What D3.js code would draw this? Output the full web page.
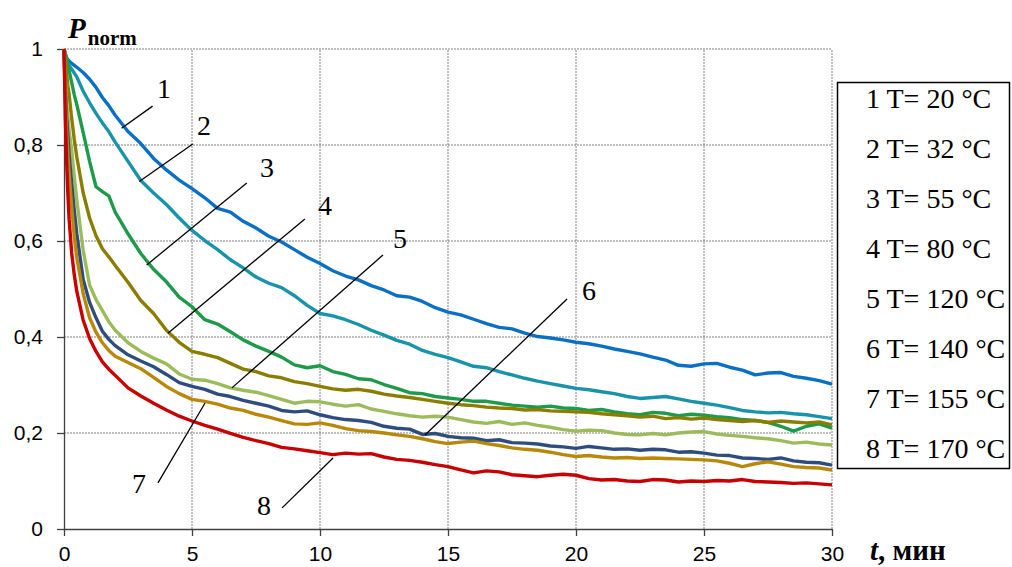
<!DOCTYPE html>
<html>
<head>
<meta charset="utf-8">
<script src="https://cdn.jsdelivr.net/npm/d3@7"></script>
<style>
  html, body { margin: 0; padding: 0; background: #fff; }
  svg { display: block; }
</style>
</head>
<body>
<div id="chart"></div>
<script>
// time axis, minutes (shared by all series)
const times = [0, 0.05, 0.1, 0.15, 0.2, 0.3, 0.4, 0.5, 0.75, 1, 1.25, 1.5, 1.75, 2,
  2.5, 3, 3.5, 4, 4.5, 5, 5.5, 6, 6.5, 7, 7.5, 8, 8.5, 9, 9.5, 10,
  10.5, 11, 11.5, 12, 12.5, 13, 13.5, 14, 14.5, 15, 15.5, 16, 16.5, 17, 17.5, 18, 18.5, 19, 19.5, 20,
  20.5, 21, 21.5, 22, 22.5, 23, 23.5, 24, 24.5, 25, 25.5, 26, 26.5, 27, 27.5, 28, 28.5, 29, 29.5, 30];

// P_norm
const p20 = [1, 0.99, 0.982, 0.978, 0.975, 0.97, 0.966, 0.962, 0.951, 0.937, 0.92, 0.899, 0.882, 0.862,
  0.828, 0.803, 0.772, 0.748, 0.727, 0.709, 0.69, 0.668, 0.66, 0.641, 0.627, 0.61, 0.598, 0.582, 0.566, 0.553,
  0.538, 0.527, 0.519, 0.507, 0.498, 0.486, 0.483, 0.474, 0.461, 0.452, 0.446, 0.437, 0.428, 0.42, 0.417, 0.408, 0.401, 0.398, 0.394, 0.389,
  0.386, 0.381, 0.375, 0.37, 0.365, 0.358, 0.352, 0.341, 0.339, 0.344, 0.345, 0.337, 0.331, 0.321, 0.325, 0.326, 0.318, 0.314, 0.309, 0.302];
const p32 = [1, 0.99, 0.98, 0.972, 0.966, 0.958, 0.95, 0.942, 0.912, 0.888, 0.866, 0.846, 0.828, 0.806,
  0.766, 0.726, 0.7, 0.676, 0.648, 0.622, 0.601, 0.582, 0.561, 0.544, 0.525, 0.512, 0.503, 0.486, 0.466, 0.449,
  0.444, 0.436, 0.426, 0.414, 0.404, 0.393, 0.385, 0.372, 0.364, 0.357, 0.348, 0.339, 0.336, 0.328, 0.321, 0.314, 0.308, 0.303, 0.298, 0.293,
  0.29, 0.286, 0.282, 0.276, 0.272, 0.274, 0.276, 0.271, 0.266, 0.262, 0.258, 0.253, 0.247, 0.244, 0.242, 0.243, 0.24, 0.238, 0.234, 0.23];
const p55 = [1, 0.99, 0.978, 0.966, 0.955, 0.93, 0.905, 0.884, 0.826, 0.766, 0.713, 0.703, 0.694, 0.66,
  0.615, 0.574, 0.541, 0.515, 0.483, 0.463, 0.436, 0.427, 0.411, 0.394, 0.381, 0.37, 0.358, 0.342, 0.336, 0.34,
  0.328, 0.322, 0.313, 0.311, 0.301, 0.293, 0.284, 0.282, 0.276, 0.273, 0.27, 0.266, 0.266, 0.262, 0.258, 0.256, 0.254, 0.256, 0.252, 0.251,
  0.247, 0.249, 0.244, 0.24, 0.238, 0.243, 0.241, 0.236, 0.239, 0.237, 0.234, 0.232, 0.228, 0.226, 0.222, 0.214, 0.204, 0.214, 0.219, 0.21];
const p80 = [1, 0.975, 0.95, 0.924, 0.905, 0.856, 0.812, 0.775, 0.7, 0.648, 0.611, 0.584, 0.567, 0.549,
  0.514, 0.476, 0.449, 0.414, 0.389, 0.37, 0.364, 0.357, 0.345, 0.333, 0.328, 0.319, 0.315, 0.307, 0.303, 0.297,
  0.292, 0.289, 0.291, 0.287, 0.281, 0.277, 0.274, 0.27, 0.266, 0.262, 0.259, 0.257, 0.254, 0.252, 0.251, 0.248, 0.249, 0.246, 0.245, 0.244,
  0.243, 0.24, 0.238, 0.236, 0.233, 0.235, 0.23, 0.232, 0.229, 0.231, 0.228, 0.226, 0.224, 0.226, 0.222, 0.225, 0.223, 0.221, 0.223, 0.217];
const p120 = [1, 0.94, 0.89, 0.86, 0.83, 0.79, 0.735, 0.685, 0.58, 0.508, 0.478, 0.455, 0.432, 0.414,
  0.388, 0.37, 0.356, 0.344, 0.323, 0.312, 0.31, 0.303, 0.294, 0.289, 0.285, 0.278, 0.27, 0.262, 0.266, 0.265,
  0.26, 0.256, 0.259, 0.25, 0.245, 0.24, 0.236, 0.233, 0.235, 0.233, 0.228, 0.223, 0.22, 0.224, 0.218, 0.221, 0.216, 0.212, 0.207, 0.204,
  0.206, 0.205, 0.2, 0.197, 0.196, 0.199, 0.196, 0.2, 0.202, 0.203, 0.198, 0.195, 0.193, 0.19, 0.188, 0.184, 0.179, 0.181, 0.177, 0.175];
const p140 = [1, 0.92, 0.86, 0.82, 0.78, 0.72, 0.665, 0.615, 0.52, 0.472, 0.44, 0.412, 0.395, 0.382,
  0.363, 0.35, 0.338, 0.322, 0.305, 0.297, 0.291, 0.281, 0.276, 0.268, 0.262, 0.256, 0.247, 0.244, 0.246, 0.238,
  0.232, 0.228, 0.226, 0.222, 0.214, 0.21, 0.208, 0.197, 0.199, 0.193, 0.19, 0.189, 0.184, 0.186, 0.18, 0.179, 0.177, 0.173, 0.171, 0.168,
  0.172, 0.169, 0.166, 0.167, 0.164, 0.166, 0.165, 0.16, 0.161, 0.158, 0.154, 0.153, 0.148, 0.147, 0.145, 0.148, 0.142, 0.139, 0.138, 0.133];
const p155 = [1, 0.9, 0.83, 0.78, 0.74, 0.67, 0.61, 0.565, 0.49, 0.44, 0.41, 0.388, 0.372, 0.36,
  0.347, 0.334, 0.316, 0.297, 0.282, 0.27, 0.266, 0.26, 0.252, 0.247, 0.239, 0.233, 0.226, 0.219, 0.218, 0.221,
  0.216, 0.209, 0.205, 0.203, 0.2, 0.196, 0.193, 0.188, 0.182, 0.178, 0.181, 0.183, 0.178, 0.174, 0.169, 0.166, 0.164, 0.16, 0.155, 0.151,
  0.153, 0.15, 0.148, 0.149, 0.147, 0.148, 0.147, 0.146, 0.145, 0.144, 0.142, 0.137, 0.13, 0.136, 0.14, 0.135, 0.13, 0.128, 0.127, 0.123];
const p170 = [1, 0.86, 0.77, 0.7, 0.645, 0.575, 0.53, 0.495, 0.435, 0.397, 0.37, 0.348, 0.333, 0.32,
  0.294, 0.277, 0.262, 0.248, 0.235, 0.225, 0.216, 0.208, 0.199, 0.191, 0.184, 0.178, 0.17, 0.167, 0.163, 0.159,
  0.155, 0.158, 0.156, 0.157, 0.15, 0.145, 0.143, 0.139, 0.134, 0.13, 0.123, 0.117, 0.121, 0.119, 0.113, 0.111, 0.109, 0.112, 0.114, 0.112,
  0.105, 0.102, 0.103, 0.1, 0.099, 0.103, 0.102, 0.098, 0.1, 0.099, 0.101, 0.1, 0.103, 0.099, 0.098, 0.097, 0.095, 0.096, 0.094, 0.092];

const seriesValues = [p20, p32, p55, p80, p120, p140, p155, p170];
const seriesColors = ['#0A70C4', '#1794AA', '#1E9A4B', '#8A7D00', '#9CBB5A', '#2E4D7E', '#B8880A', '#C80000'];
const legendLabels = ['1 T= 20 °C', '2 T= 32 °C', '3 T= 55 °C', '4 T= 80 °C',
  '5 T= 120 °C', '6 T= 140 °C', '7 T= 155 °C', '8 T= 170 °C'];

const xTicks = [0, 5, 10, 15, 20, 25, 30];
const yTicks = [0, 0.2, 0.4, 0.6, 0.8, 1];

// curve number callouts, in data units: text anchor, line start, line end
const callouts = [
  { n: '1', tx: 3.63, ty: 0.898, x1: 3.46, y1: 0.881, x2: 2.25, y2: 0.835 },
  { n: '2', tx: 5.2, ty: 0.821, x1: 5.03, y1: 0.802, x2: 2.94, y2: 0.724 },
  { n: '3', tx: 7.66, ty: 0.733, x1: 7.14, y1: 0.721, x2: 3.23, y2: 0.55 },
  { n: '4', tx: 9.92, ty: 0.654, x1: 9.41, y1: 0.646, x2: 4.06, y2: 0.408 },
  { n: '5', tx: 12.85, ty: 0.585, x1: 12.46, y1: 0.571, x2: 6.56, y2: 0.294 },
  { n: '6', tx: 20.23, ty: 0.477, x1: 19.65, y1: 0.479, x2: 14.1, y2: 0.196 },
  { n: '7', tx: 2.66, ty: 0.075, x1: 3.67, y1: 0.096, x2: 5.51, y2: 0.2625 },
  { n: '8', tx: 7.54, ty: 0.029, x1: 8.52, y1: 0.044, x2: 10.51, y2: 0.148 }
];

const W = 1012, H = 567;
const svg = d3.select('#chart').append('svg')
  .attr('width', W).attr('height', H);

const x = d3.scaleLinear().domain([0, 30]).range([64, 832]);
const y = d3.scaleLinear().domain([0, 1]).range([529, 49]);

const serif = '"Liberation Serif", "Times New Roman", serif';
const sans = '"Liberation Sans", Arial, sans-serif';

// grid
const grid = svg.append('g');
grid.selectAll('line.v')
  .data(xTicks.filter(d => d > 0)).enter()
  .append('line')
    .attr('x1', d => x(d)).attr('x2', d => x(d))
    .attr('y1', y(0)).attr('y2', y(1))
    .attr('stroke', '#808080').attr('stroke-width', 1)
    .attr('stroke-dasharray', '2,1');
grid.selectAll('line.h')
  .data(yTicks.filter(d => d > 0)).enter()
  .append('line')
    .attr('x1', x(0)).attr('x2', x(30))
    .attr('y1', d => y(d)).attr('y2', d => y(d))
    .attr('stroke', '#808080').attr('stroke-width', 1)
    .attr('stroke-dasharray', '2,1');

// axes
const fmt = d => String(d).replace('.', ',');
const yAxis = svg.append('g')
  .attr('transform', `translate(${x(0)},0)`)
  .call(d3.axisLeft(y).tickValues(yTicks).tickFormat(fmt).tickSize(7).tickSizeOuter(0).tickPadding(14));
const xAxis = svg.append('g')
  .attr('transform', `translate(0,${y(0)})`)
  .call(d3.axisBottom(x).tickValues(xTicks).tickSize(7).tickSizeOuter(0).tickPadding(10));
[xAxis, yAxis].forEach(a => {
  a.select('.domain').attr('stroke', '#404040').attr('stroke-width', 1.3);
  a.selectAll('.tick line').attr('stroke', '#404040').attr('stroke-width', 1.3);
  a.selectAll('.tick text')
    .attr('font-family', sans).attr('font-size', '21px').attr('fill', '#000');
});

// curves
const line = d3.line()
  .x((d, i) => x(times[i]))
  .y(d => y(d));
svg.append('g').selectAll('path')
  .data(seriesValues).enter()
  .append('path')
    .attr('d', d => line(d))
    .attr('fill', 'none')
    .attr('stroke', (d, i) => seriesColors[i])
    .attr('stroke-width', 3.4)
    .attr('stroke-linejoin', 'round');

// callouts
const co = svg.append('g');
co.selectAll('line')
  .data(callouts).enter()
  .append('line')
    .attr('x1', d => x(d.x1)).attr('y1', d => y(d.y1))
    .attr('x2', d => x(d.x2)).attr('y2', d => y(d.y2))
    .attr('stroke', '#000').attr('stroke-width', 1.3);
co.selectAll('text')
  .data(callouts).enter()
  .append('text')
    .attr('x', d => x(d.tx)).attr('y', d => y(d.ty))
    .attr('font-family', serif).attr('font-size', '28px').attr('fill', '#000')
    .text(d => d.n);

// axis titles
const pt = svg.append('text')
  .attr('x', 68).attr('y', 38)
  .attr('font-family', serif).attr('font-weight', 'bold').attr('fill', '#000');
pt.append('tspan').attr('font-style', 'italic').attr('font-size', '29px').text('P');
pt.append('tspan').attr('font-size', '21px').attr('dx', 2).attr('dy', 7).text('norm');

const tt = svg.append('text')
  .attr('x', 870).attr('y', 560)
  .attr('font-family', serif).attr('font-weight', 'bold').attr('font-size', '29px').attr('fill', '#000');
tt.append('tspan').attr('font-style', 'italic').text('t');
tt.append('tspan').text(', мин');

// legend
const lg = svg.append('g');
lg.append('rect')
  .attr('x', 837.5).attr('y', 82.5).attr('width', 172).attr('height', 386)
  .attr('fill', '#fff').attr('stroke', '#000').attr('stroke-width', 1.5);
lg.selectAll('text')
  .data(legendLabels).enter()
  .append('text')
    .attr('x', 866)
    .attr('y', (d, i) => 108 + i * 50)
    .attr('font-family', serif).attr('font-size', '28px').attr('fill', '#000')
    .text(d => d);
</script>
</body>
</html>
